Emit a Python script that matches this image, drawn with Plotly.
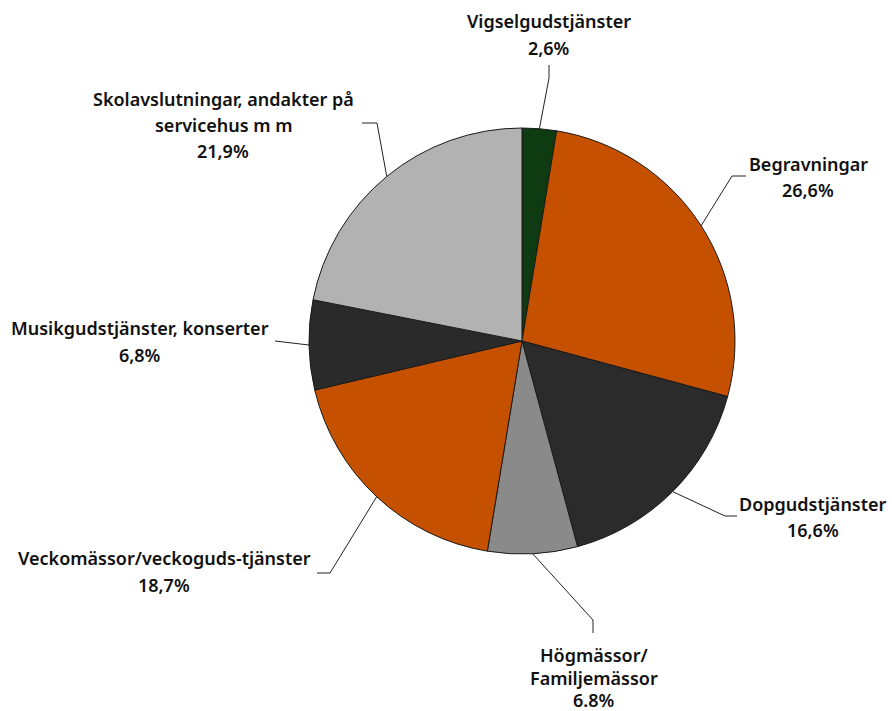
import math
import plotly.graph_objects as go

# ---- data ----
categories = [
    "Vigselgudstjänster",
    "Begravningar",
    "Dopgudstjänster",
    "Högmässor/<br>Familjemässor",
    "Veckomässor/veckoguds-tjänster",
    "Musikgudstjänster, konserter",
    "Skolavslutningar, andakter på<br>servicehus m m",
]
values = [2.6, 26.6, 16.6, 6.8, 18.7, 6.8, 21.9]
pct_labels = ["2,6%", "26,6%", "16,6%", "6.8%", "18,7%", "6,8%", "21,9%"]
colors = ["#0e3b12", "#c45000", "#2b2b2b", "#8a8a8a", "#c45000", "#2a2a2a", "#b2b2b2"]

# ---- layout (pixels) ----
W, H = 892, 711
CX, CY, R = 522, 341, 213

# label layout: elbow point, end point of leader, label centre x, y of each text line
label_layout = [
    dict(elbow=(549, 78), end=(549, 65), tx=549, ty=[21, 48]),
    dict(elbow=(732, 176), end=(746, 176), tx=808, ty=[164, 190]),
    dict(elbow=(725, 516), end=(737, 516), tx=813, ty=[504, 530]),
    dict(elbow=(593, 620), end=(593, 633), tx=594, ty=[655, 678, 700]),
    dict(elbow=(330, 573), end=(317, 573), tx=164, ty=[558, 585]),
    dict(elbow=(275, 341), end=(275, 341), tx=140, ty=[328, 355]),
    dict(elbow=(377, 123), end=(362, 123), tx=223, ty=[99, 125, 151]),
]

def px(x):
    return x / W

def py(y):
    return 1 - y / H

fig = go.Figure()
fig.add_trace(go.Pie(
    labels=[c.replace("<br>", " ") for c in categories],
    values=values,
    sort=False,
    direction="clockwise",
    rotation=0,
    textinfo="none",
    hoverinfo="label+percent",
    marker=dict(colors=colors, line=dict(color="#1a1a1a", width=1)),
    domain=dict(x=[px(CX - R), px(CX + R)], y=[py(CY + R), py(CY - R)]),
    showlegend=False,
))

shapes = []
annotations = []
total = sum(values)
cum = 0.0
font = dict(family="Noto Sans", size=18, color="#111111", weight=600)
for cat, v, pl, lay in zip(categories, values, pct_labels, label_layout):
    mid = (cum + v / 2) / total * 2 * math.pi
    cum += v
    ax = CX + R * math.sin(mid)
    ay = CY - R * math.cos(mid)
    ex, ey = lay["elbow"]
    fx, fy = lay["end"]
    path = f"M {px(ax)},{py(ay)} L {px(ex)},{py(ey)} L {px(fx)},{py(fy)}"
    shapes.append(dict(type="path", xref="paper", yref="paper", path=path,
                       line=dict(color="#222222", width=1)))
    lines = cat.split("<br>") + [pl]
    for t, yy in zip(lines, lay["ty"]):
        annotations.append(dict(x=px(lay["tx"]), y=py(yy), xref="paper", yref="paper",
                                text=t, showarrow=False, xanchor="center", yanchor="middle",
                                font=font))

fig.update_layout(
    width=W, height=H,
    margin=dict(l=0, r=0, t=0, b=0),
    paper_bgcolor="white", plot_bgcolor="white",
    shapes=shapes, annotations=annotations,
)

fig.write_html("out.html", config={"displayModeBar": False},
               post_script="document.body.style.margin='0';document.body.style.overflow='hidden';")
